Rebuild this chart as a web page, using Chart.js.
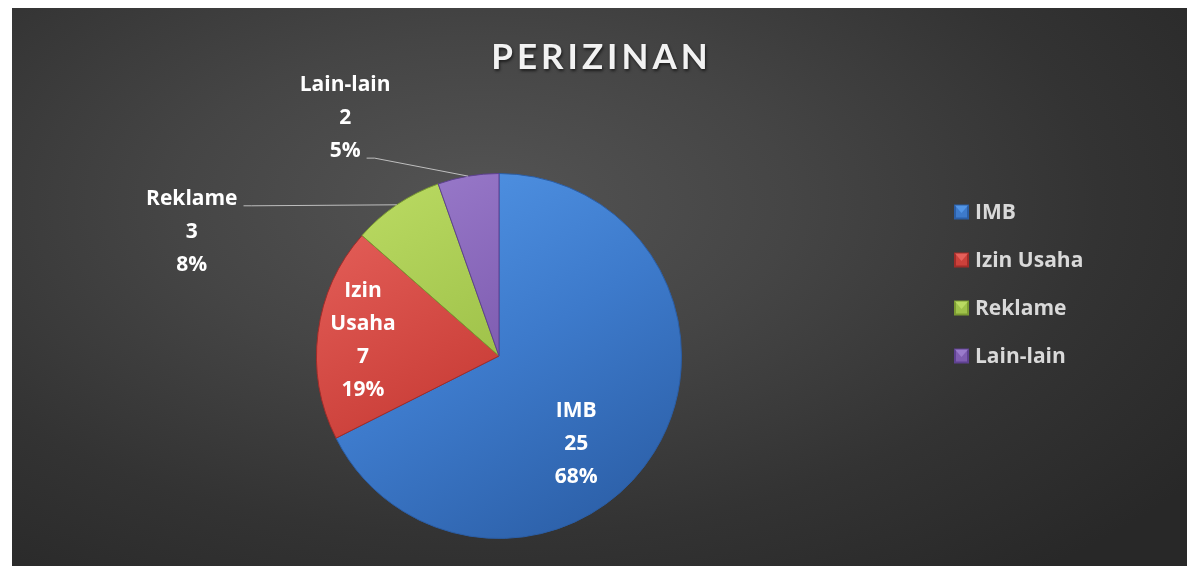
<!DOCTYPE html>
<html lang="id">
<head>
  <meta charset="UTF-8" />
  <title>Perizinan</title>
  <script src="https://cdn.jsdelivr.net/npm/chart.js"></script>
</head>
<body style="margin: 0; padding: 0; background: #ffffff; width: 1187px; height: 566px; overflow: hidden; font-family: Lato, sans-serif;">

<div style="position: absolute; left: 12px; top: 8px; width: 1175px; height: 558px; background: radial-gradient(ellipse 75% 85% at 40% 35%, #545454 0%, #454545 35%, #333333 70%, #282828 100%);">
  <canvas id="pieChart"></canvas>
</div>

<script>
  // data
  const kategori = ['IMB', 'Izin Usaha', 'Reklame', 'Lain-lain'];
  const jumlah = [25, 7, 3, 2];
  const judul = 'PERIZINAN';

  // colour ramps per slice: light, mid, dark
  const warna = [
    ['#5295e6', '#3d7acb', '#2b5ea6'],
    ['#e5605a', '#cc413b', '#a12c29'],
    ['#bada62', '#9fc24a', '#7b9b32'],
    ['#9a7bcb', '#7f5db1', '#5e4190']
  ];

  const FONT_JUDUL = 'Lato, "Open Sans", sans-serif';
  const FONT = '"Open Sans", Lato, sans-serif';

  function isiSlice(context) {
    const i = context.dataIndex;
    const chart = context.chart;
    const area = chart.chartArea;
    if (!area) return warna[i][1];
    const cx = (area.left + area.right) / 2;
    const cy = (area.top + area.bottom) / 2;
    const r = Math.min(area.right - area.left, area.bottom - area.top) / 2;
    const g = chart.ctx.createLinearGradient(cx - r * 0.6, cy - r, cx + r * 0.6, cy + r);
    g.addColorStop(0, warna[i][0]);
    g.addColorStop(0.5, warna[i][1]);
    g.addColorStop(1, warna[i][2]);
    return g;
  }

  // title drawn by hand so it can get letter spacing + shadow
  const judulPlugin = {
    id: 'judul',
    afterDraw(chart) {
      const ctx = chart.ctx;
      ctx.save();
      ctx.font = 'bold 35px ' + FONT_JUDUL;
      ctx.letterSpacing = '4px';
      ctx.textAlign = 'center';
      ctx.textBaseline = 'alphabetic';
      ctx.shadowColor = 'rgba(0,0,0,0.6)';
      ctx.shadowOffsetX = 1;
      ctx.shadowOffsetY = 2;
      ctx.shadowBlur = 3;
      ctx.fillStyle = '#f2f2f2';
      ctx.fillText(judul, chart.width / 2 + 2, 61);
      ctx.restore();
    }
  };

  // data labels: inside for big slices, outside with leader line for small ones
  const labelPlugin = {
    id: 'labelSlice',
    afterDatasetsDraw(chart, args, opts) {
      const ctx = chart.ctx;
      const meta = chart.getDatasetMeta(0);
      const total = jumlah.reduce((a, b) => a + b, 0);
      ctx.save();
      ctx.font = 'bold 21px ' + FONT;
      ctx.fillStyle = '#ffffff';
      ctx.textAlign = 'center';
      ctx.textBaseline = 'middle';
      const lh = 33;
      meta.data.forEach((arc, i) => {
        const p = arc.getProps(['x', 'y', 'startAngle', 'endAngle', 'outerRadius'], true);
        const mid = (p.startAngle + p.endAngle) / 2;
        const pct = Math.round(jumlah[i] / total * 100) + '%';
        const place = opts.tempat[i];
        let lines;
        let bx, by;
        if (place.dalam) {
          lines = kategori[i].split(' ').concat([String(jumlah[i]), pct]);
          const a = mid + place.putar * Math.PI / 180;
          bx = p.x + Math.cos(a) * p.outerRadius * place.jarak;
          by = p.y + Math.sin(a) * p.outerRadius * place.jarak;
        } else {
          lines = [kategori[i], String(jumlah[i]), pct];
          const ox = p.x + Math.cos(mid) * p.outerRadius;
          const oy = p.y + Math.sin(mid) * p.outerRadius;
          bx = ox + place.dx;
          by = oy + place.dy;
          // find text line nearest to the edge point for the leader line
          const y0 = by - (lines.length - 1) * lh / 2;
          let best = 0;
          lines.forEach((t, k) => {
            if (Math.abs(y0 + k * lh - oy) < Math.abs(y0 + best * lh - oy)) best = k;
          });
          const w = ctx.measureText(lines[best]).width;
          const sx = bx + w / 2 + 6;
          const sy = y0 + best * lh + 7;
          ctx.save();
          ctx.strokeStyle = 'rgba(210,210,210,0.85)';
          ctx.lineWidth = 1;
          ctx.beginPath();
          ctx.moveTo(sx, sy);
          ctx.lineTo(sx + 8, sy);
          ctx.lineTo(ox, oy);
          ctx.stroke();
          ctx.restore();
        }
        const top = by - (lines.length - 1) * lh / 2;
        lines.forEach((t, k) => ctx.fillText(t, bx, top + k * lh));
      });
      ctx.restore();
    }
  };

  // legend on the right, drawn from the chart data
  const legendaPlugin = {
    id: 'legenda',
    afterDraw(chart, args, opts) {
      const ctx = chart.ctx;
      ctx.save();
      ctx.font = 'bold 21px ' + FONT;
      ctx.textBaseline = 'middle';
      ctx.textAlign = 'left';
      chart.data.labels.forEach((lbl, i) => {
        const y = opts.y + i * opts.jarak;
        const x = opts.x;
        const s = 15;
        ctx.fillStyle = warna[i][2];
        ctx.fillRect(x, y - s / 2, s, s);
        ctx.fillStyle = warna[i][1];
        ctx.fillRect(x + 2, y - s / 2 + 2, s - 4, s - 4);
        ctx.fillStyle = warna[i][0];
        ctx.beginPath();
        ctx.moveTo(x + 1, y - s / 2 + 1);
        ctx.lineTo(x + s - 1, y - s / 2 + 1);
        ctx.lineTo(x + s / 2, y + 1);
        ctx.closePath();
        ctx.fill();
        ctx.fillStyle = '#d9d9d9';
        ctx.fillText(lbl, x + s + 6, y + 1);
      });
      ctx.restore();
    }
  };

  const pieCtx = document.getElementById('pieChart').getContext('2d');

  const pieChart = new Chart(pieCtx, {
    type: 'pie',
    data: {
      labels: kategori,
      datasets: [{
        data: jumlah,
        backgroundColor: isiSlice,
        borderColor: warna.map(w => w[2]),
        borderWidth: 1
      }]
    },
    options: {
      responsive: true,
      maintainAspectRatio: false,
      animation: false,
      layout: {
        padding: { left: 0, right: 201, top: 165, bottom: 27 }
      },
      plugins: {
        legend: { display: false },
        tooltip: { enabled: false },
        labelSlice: {
          tempat: [
            { dalam: true, jarak: 0.64, putar: 17 },
            { dalam: true, jarak: 0.75, putar: -0.6 },
            { dalam: false, dx: -205, dy: 27 },
            { dalam: false, dx: -123, dy: -58 }
          ]
        },
        legenda: { x: 942, y: 204, jarak: 48 }
      }
    },
    plugins: [judulPlugin, labelPlugin, legendaPlugin]
  });
</script>
</body>
</html>
